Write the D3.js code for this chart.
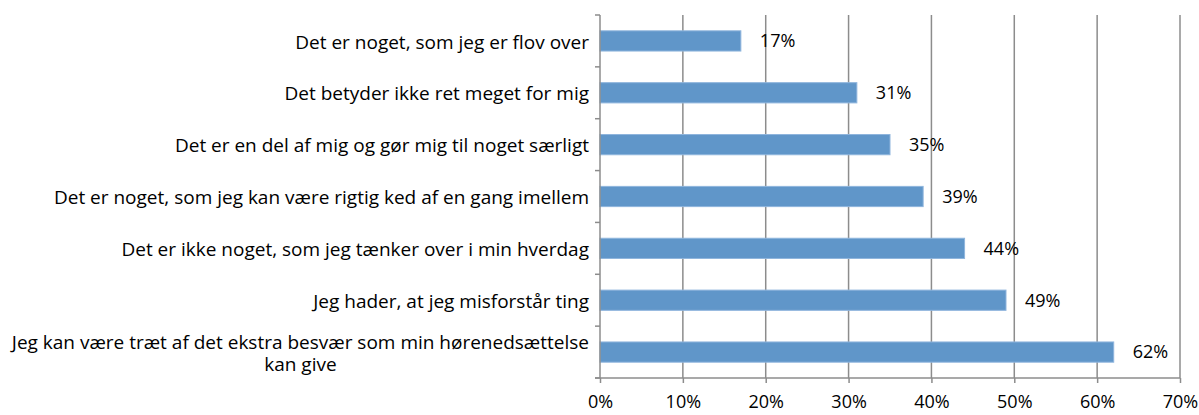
<!DOCTYPE html>
<html>
<head>
<meta charset="utf-8">
<script src="https://cdn.jsdelivr.net/npm/d3@7"></script>
<style>
  body { margin: 0; background: #fff; }
  svg text { font-family: "Open Sans", sans-serif; fill: #000; }
</style>
</head>
<body>
<svg id="chart" width="1199" height="415"></svg>
<script>
const categories = [
    "Det er noget, som jeg er flov over",
    "Det betyder ikke ret meget for mig",
    "Det er en del af mig og gør mig til noget særligt",
    "Det er noget, som jeg kan være rigtig ked af en gang imellem",
    "Det er ikke noget, som jeg tænker over i min hverdag",
    "Jeg hader, at jeg misforstår ting",
    "Jeg kan være træt af det ekstra besvær som min hørenedsættelse kan give"
];
const values = [17, 31, 35, 39, 44, 49, 62];
const xTicks = [0, 10, 20, 30, 40, 50, 60, 70];

const svg = d3.select("#chart");
const margin = { left: 600, right: 19, top: 15, bottom: 37 };
const width = 1199, height = 415;
const gridColor = "#8c8c8c";
const fontSize = 19;

const x = d3.scaleLinear().domain([0, 70]).range([margin.left, width - margin.right]);
const y = d3.scaleBand().domain(categories).range([margin.top, height - margin.bottom]).paddingInner(0.61).paddingOuter(0.305);
const yEdges = d3.scaleLinear().domain([0, categories.length]).range([margin.top, height - margin.bottom]);

// gridlines
svg.append("g").selectAll("line")
    .data(xTicks.slice(1))
    .join("line")
    .attr("x1", d => x(d)).attr("x2", d => x(d))
    .attr("y1", margin.top).attr("y2", height - margin.bottom)
    .attr("stroke", gridColor).attr("stroke-width", 1.5);

// bars
svg.append("g").selectAll("rect")
    .data(values)
    .join("rect")
    .attr("x", x(0))
    .attr("y", (d, i) => y(categories[i]))
    .attr("width", d => x(d) - x(0))
    .attr("height", y.bandwidth())
    .attr("fill", "#6096c9")
    .attr("stroke", "#8fb5dd")
    .attr("stroke-width", 1);

// value labels
svg.append("g").selectAll("text")
    .data(values)
    .join("text")
    .attr("x", d => x(d) + 19)
    .attr("y", (d, i) => y(categories[i]) + y.bandwidth() / 2)
    .attr("dy", "0.35em")
    .attr("font-size", 18)
    .text(d => d + "%");

// y axis line + ticks at category boundaries
const yAxis = svg.append("g");
yAxis.append("line")
    .attr("x1", x(0)).attr("x2", x(0))
    .attr("y1", margin.top).attr("y2", height - margin.bottom)
    .attr("stroke", gridColor).attr("stroke-width", 1.5);
yAxis.selectAll("line.tick")
    .data(d3.range(categories.length + 1))
    .join("line")
    .attr("class", "tick")
    .attr("x1", x(0) - 5).attr("x2", x(0))
    .attr("y1", d => yEdges(d)).attr("y2", d => yEdges(d))
    .attr("stroke", gridColor).attr("stroke-width", 1.5);

// x axis
const xAxis = d3.axisBottom(x)
    .tickValues(xTicks)
    .tickFormat(d => d + "%")
    .tickSize(5)
    .tickPadding(12);
const gx = svg.append("g")
    .attr("transform", `translate(0,${height - margin.bottom})`)
    .call(xAxis);
gx.select(".domain").remove();
gx.append("line")
    .attr("x1", x(0) - 5).attr("x2", x(70))
    .attr("stroke", gridColor).attr("stroke-width", 1.5);
gx.selectAll(".tick line").attr("stroke", gridColor).attr("stroke-width", 1.5);
gx.selectAll(".tick text")
    .attr("font-size", 18)
    .attr("font-family", "'Open Sans', sans-serif")
    .attr("fill", "#000");

// category labels, wrapped when too long
const maxLabelWidth = 590;
const labelRight = x(0) - 11;
const lineHeight = 22;
const labels = svg.append("g");
categories.forEach(cat => {
    const cy = y(cat) + y.bandwidth() / 2;
    // greedy wrap
    const words = cat.split(" ");
    const lines = [];
    let line = [];
    const probe = labels.append("text").attr("font-size", fontSize);
    words.forEach(w => {
        const test = line.concat([w]).join(" ");
        probe.text(test);
        if (probe.node().getComputedTextLength() > maxLabelWidth && line.length) {
            lines.push(line.join(" "));
            line = [w];
        } else {
            line.push(w);
        }
    });
    lines.push(line.join(" "));
    probe.text(lines[0]);
    const firstW = probe.node().getComputedTextLength();
    probe.remove();
    const top = cy - (lines.length - 1) * lineHeight / 2 + 1;
    lines.forEach((l, i) => {
        const t = labels.append("text")
            .attr("font-size", fontSize)
            .attr("dy", "0.35em")
            .attr("y", top + i * lineHeight)
            .text(l);
        if (i === 0) {
            t.attr("text-anchor", "end").attr("x", labelRight);
        } else {
            t.attr("text-anchor", "middle").attr("x", labelRight - firstW / 2);
        }
    });
});
</script>
</body>
</html>
